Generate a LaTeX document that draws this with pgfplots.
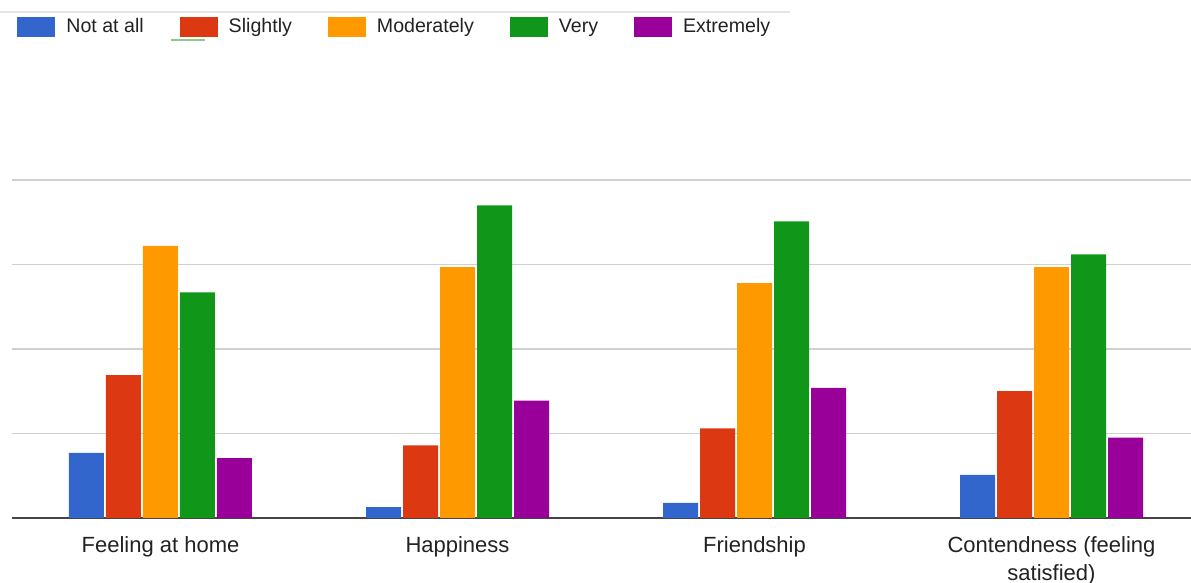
\documentclass[border=0pt]{standalone}
\usepackage{pgfplots}
\pgfplotsset{compat=1.18}
\usepackage{fontspec}
\setmainfont{Liberation Sans}
\definecolor{cA}{HTML}{3366CC}
\definecolor{cB}{HTML}{DC3912}
\definecolor{cC}{HTML}{FF9900}
\definecolor{cD}{HTML}{109618}
\definecolor{cE}{HTML}{990099}
\definecolor{gridgray}{HTML}{D0D0D0}
\definecolor{axisgray}{HTML}{444444}
\definecolor{txt}{HTML}{222222}
\begin{document}
\begin{tikzpicture}
\useasboundingbox (0,0) rectangle (595.5pt,291.5pt);
\draw[color=gray!20, line width=1pt] (0,285.5pt) -- (395pt,285.5pt);
\draw[color=cD!50, line width=0.6pt] (85.5pt,271.5pt) -- (102.5pt,271.5pt);
\begin{axis}[
  at={(6pt,32.5pt)}, anchor=south west,
  scale only axis, width=589.5pt, height=169pt,
  xmin=-0.5, xmax=3.4697, ymin=0, ymax=40,
  ybar=1pt, bar width=17.5pt,
  xtick={0,1,2,3},
  xticklabels={Feeling at home, Happiness, Friendship, {Contendness (feeling\\satisfied)}},
  x tick label style={font=\fontsize{11}{14}\selectfont, text=txt, align=center, yshift=-5.5pt},
  ytick={10,20,30,40}, yticklabels={},
  ymajorgrids, grid style={color=gridgray, line width=0.8pt},
  major tick length=0pt,
  axis x line=bottom, axis y line=left,
  y axis line style={draw=none},
  x axis line style={-, color=axisgray, line width=1pt},
  axis on top=false,
  legend columns=-1,
  legend style={at={(axis description cs:0.00424,1.4527)}, anchor=west, draw=none, fill=none, inner sep=0pt,
    font=\fontsize{9.8}{12}\selectfont, text=txt,
    /tikz/every odd column/.append style={column sep=3.5pt},
    /tikz/every even column/.append style={column sep=16pt}},
  legend image code/.code={\fill[#1] (0pt,-5pt) rectangle (19pt,5pt);},
]
\addplot[fill=cA, draw=none] coordinates {(0,7.7) (1,1.3) (2,1.8) (3,5.1)};
\addplot[fill=cB, draw=none] coordinates {(0,16.9) (1,8.6) (2,10.6) (3,15.0)};
\addplot[fill=cC, draw=none] coordinates {(0,32.2) (1,29.7) (2,27.8) (3,29.7)};
\addplot[fill=cD, draw=none] coordinates {(0,26.7) (1,37.0) (2,35.1) (3,31.2)};
\addplot[fill=cE, draw=none] coordinates {(0,7.1) (1,13.9) (2,15.4) (3,9.5)};
\legend{Not at all, Slightly, Moderately, Very, Extremely}
\end{axis}
\end{tikzpicture}
\end{document}
